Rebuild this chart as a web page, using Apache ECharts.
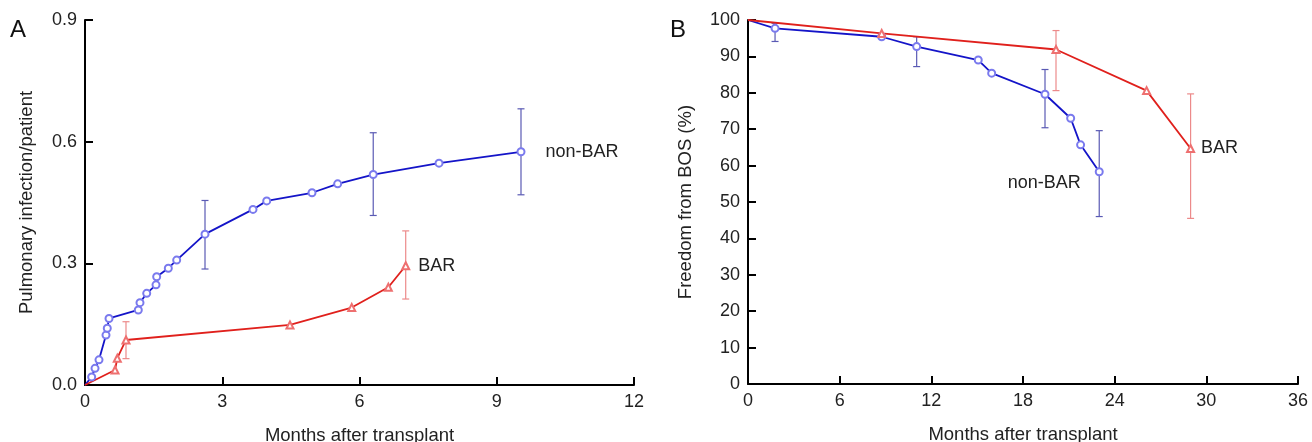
<!DOCTYPE html>
<html><head><meta charset="utf-8">
<script src="https://cdn.jsdelivr.net/npm/echarts@6/dist/echarts.min.js"></script>
<style>html,body{margin:0;padding:0;background:#fff}#c{width:1312px;height:442px}</style>
</head><body><div id="c"></div>
<script>
// Panel A: pulmonary infection / patient
const aNonBarX = [0, 0.146, 0.219, 0.306, 0.459, 0.487, 0.525, 1.165, 1.202, 1.349, 1.552, 1.567, 1.821, 2.004, 2.623, 3.672, 3.972, 4.962, 5.523, 6.30, 7.738, 9.53];
const aNonBarY = [0, 0.020, 0.041, 0.062, 0.123, 0.140, 0.164, 0.185, 0.203, 0.226, 0.247, 0.267, 0.288, 0.308, 0.372, 0.433, 0.454, 0.474, 0.496, 0.519, 0.547, 0.575];
const aNonBarErrX = [2.623, 6.30, 9.53];
const aNonBarErrLo = [0.286, 0.418, 0.469];
const aNonBarErrHi = [0.455, 0.622, 0.681];
const aBarX = [0, 0.656, 0.706, 0.896, 4.48, 5.83, 6.63, 7.01];
const aBarY = [0, 0.037, 0.066, 0.111, 0.148, 0.191, 0.241, 0.294];
const aBarErrX = [0.896, 7.01];
const aBarErrLo = [0.065, 0.212];
const aBarErrHi = [0.156, 0.380];
// Panel B: freedom from BOS (%)
const bNonBarX = [0, 1.77, 8.75, 11.04, 15.07, 15.95, 19.44, 21.12, 21.77, 22.99];
const bNonBarY = [100, 97.7, 95.4, 92.7, 89.0, 85.4, 79.6, 73.0, 65.7, 58.3];
const bNonBarErrX = [1.77, 11.04, 19.44, 22.99];
const bNonBarErrLo = [94.1, 87.2, 70.4, 46.0];
const bNonBarErrHi = [99.1, 95.4, 86.4, 69.6];
const bBarX = [0, 8.75, 20.16, 26.09, 28.97];
const bBarY = [100, 96.3, 91.9, 80.6, 64.7];
const bBarErrX = [20.16, 28.97];
const bBarErrLo = [80.6, 45.5];
const bBarErrHi = [97.1, 79.7];
const seriesNames = ['non-BAR', 'BAR'];
const panelLetters = ['A', 'B'];
const xTitle = 'Months after transplant';
const yTitles = ['Pulmonary infection/patient', 'Freedom from BOS (%)'];

const FONT = 'Liberation Sans, Arial, sans-serif';
const BLUE = '#1414c8', BLUE_MK = '#7a7aee', BLUE_ERR = '#5a5ab4';
const RED = '#e0201c', RED_MK = '#ee7070', RED_ERR = '#ec8a8a';

function lineData(xs, ys, name, labelPos) {
  return xs.map((x, i) => {
    const item = { value: [x, ys[i]] };
    if (i === 0) item.symbol = 'none';
    if (i === xs.length - 1) {
      item.label = Object.assign({ show: true, formatter: name, color: '#222', fontSize: 18, fontFamily: FONT }, labelPos);
    }
    return item;
  });
}
function errData(xs, lo, hi) { return xs.map((x, i) => [x, lo[i], hi[i]]); }
function errSeries(xi, data, color) {
  return {
    type: 'custom', xAxisIndex: xi, yAxisIndex: xi, data: data, z: 1,
    encode: { x: 0, y: [1, 2] },
    renderItem: function (params, api) {
      const x = api.value(0);
      const p1 = api.coord([x, api.value(1)]);
      const p2 = api.coord([x, api.value(2)]);
      const w = 3.5;
      const st = { stroke: color, lineWidth: 1.2 };
      return { type: 'group', children: [
        { type: 'line', shape: { x1: p1[0], y1: p1[1], x2: p2[0], y2: p2[1] }, style: st },
        { type: 'line', shape: { x1: p1[0] - w, y1: p1[1], x2: p1[0] + w, y2: p1[1] }, style: st },
        { type: 'line', shape: { x1: p2[0] - w, y1: p2[1], x2: p2[0] + w, y2: p2[1] }, style: st }
      ]};
    }
  };
}
function lineSeries(xi, data, lineColor, mkColor, symbol) {
  return {
    type: 'line', xAxisIndex: xi, yAxisIndex: xi, data: data, z: 3,
    symbol: symbol, symbolSize: 7, showAllSymbol: true,
    lineStyle: { color: lineColor, width: 1.8 },
    itemStyle: { color: mkColor, borderColor: mkColor, borderWidth: 1 },
    animation: false
  };
}
const axisCommon = {
  axisLine: { onZero: false, lineStyle: { color: '#000', width: 2 } },
  axisTick: { inside: true, length: 8, lineStyle: { color: '#000', width: 2 } },
  axisLabel: { color: '#222', fontSize: 18, fontFamily: FONT, margin: 8 },
  splitLine: { show: false },
  nameTextStyle: { color: '#222', fontSize: 18.5, fontFamily: FONT },
  nameLocation: 'middle'
};
const chart = echarts.init(document.getElementById('c'), null, { renderer: 'canvas' });
chart.setOption({
  animation: false,
  backgroundColor: '#fff',
  grid: [
    { left: 85, top: 20, width: 549, height: 365, containLabel: false, outerBoundsMode: 'none' },
    { left: 748, top: 20, width: 550, height: 364, containLabel: false, outerBoundsMode: 'none' }
  ],
  xAxis: [
    Object.assign({}, axisCommon, { gridIndex: 0, type: 'value', min: 0, max: 12, interval: 3, name: xTitle, nameGap: 41 }),
    Object.assign({}, axisCommon, { gridIndex: 1, type: 'value', min: 0, max: 36, interval: 6, name: xTitle, nameGap: 41 })
  ],
  yAxis: [
    Object.assign({}, axisCommon, { gridIndex: 0, type: 'value', min: 0, max: 0.9, interval: 0.3, name: yTitles[0], nameGap: 49,
      axisLabel: Object.assign({}, axisCommon.axisLabel, { formatter: v => v.toFixed(1) }) }),
    Object.assign({}, axisCommon, { gridIndex: 1, type: 'value', min: 0, max: 100, interval: 10, name: yTitles[1], nameGap: 53 })
  ],
  graphic: [
    { type: 'text', left: 10, top: 18, style: { text: panelLetters[0], fontSize: 24, fontFamily: FONT, fill: '#111' } },
    { type: 'text', left: 670, top: 18, style: { text: panelLetters[1], fontSize: 24, fontFamily: FONT, fill: '#111' } }
  ],
  series: [
    errSeries(0, errData(aNonBarErrX, aNonBarErrLo, aNonBarErrHi), BLUE_ERR),
    errSeries(0, errData(aBarErrX, aBarErrLo, aBarErrHi), RED_ERR),
    lineSeries(0, lineData(aNonBarX, aNonBarY, seriesNames[0], { position: 'right', distance: 20 }), BLUE, BLUE_MK, 'emptyCircle'),
    lineSeries(0, lineData(aBarX, aBarY, seriesNames[1], { position: 'right', distance: 8 }), RED, RED_MK, 'emptyTriangle'),
    errSeries(1, errData(bNonBarErrX, bNonBarErrLo, bNonBarErrHi), BLUE_ERR),
    errSeries(1, errData(bBarErrX, bBarErrLo, bBarErrHi), RED_ERR),
    lineSeries(1, lineData(bNonBarX, bNonBarY, seriesNames[0], { position: 'left', distance: 14, offset: [0, 11] }), BLUE, BLUE_MK, 'emptyCircle'),
    lineSeries(1, lineData(bBarX, bBarY, seriesNames[1], { position: 'right', distance: 6 }), RED, RED_MK, 'emptyTriangle')
  ]
});
</script></body></html>
